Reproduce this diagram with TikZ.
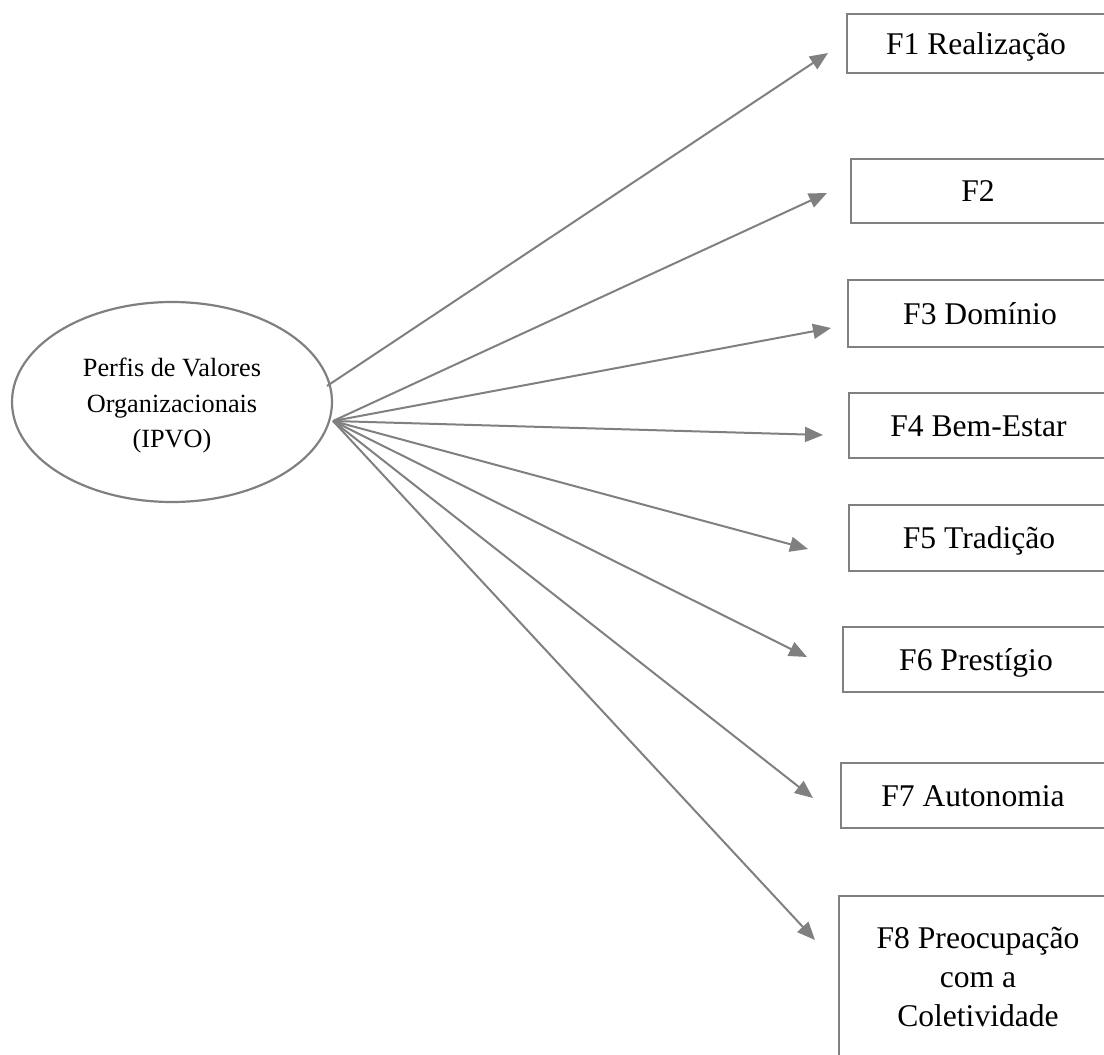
\documentclass[tikz,border=0pt]{standalone}
\usepackage{fontspec}
\setmainfont{Liberation Serif}
\usetikzlibrary{shapes.geometric,arrows.meta}
\definecolor{linegray}{HTML}{808080}
\begin{document}
\begin{tikzpicture}[x=1pt,y=-1pt,
  factor/.style={draw=linegray, line width=2.2pt, rectangle, inner sep=0pt,
    font=\fontsize{31.6}{39}\selectfont},
  oneline/.style={factor, text height=21pt, text depth=0pt},
  link/.style={draw=linegray, line width=2pt, -{Triangle[length=18pt,width=15pt]}}
]
\useasboundingbox (0,0) rectangle (1104,1055);
\clip (0,0) rectangle (1104,1055);

% latent construct
\node[ellipse, draw=linegray, line width=2.2pt, minimum width=320pt,
  minimum height=200pt, inner sep=0pt] (ipvo) at (172,402) {};
\node[align=center, inner sep=0pt, font=\fontsize{26.3}{35.5}\selectfont]
  (ipvotext) at ([yshift=-4pt]ipvo.center)
  {Perfis de Valores\\Organizacionais\\(IPVO)};

% factors
\node[oneline, minimum width=258pt, minimum height=59pt] (f1) at (976,43.5) {F1 Realização};
\node[oneline, minimum width=254pt, minimum height=64pt] (f2) at (978,191) {F2};
\node[oneline, minimum width=264pt, minimum height=67pt] (f3) at (980,313.5) {F3 Domínio};
\node[oneline, minimum width=259pt, minimum height=65pt] (f4) at (978.5,425.5) {F4 Bem-Estar};
\node[oneline, minimum width=260pt, minimum height=66pt] (f5) at (979,538) {F5 Tradição};
\node[oneline, minimum width=266pt, minimum height=65pt] (f6) at (976,659.5) {F6 Prestígio};
\node[oneline, minimum width=264pt, minimum height=65pt] (f7) at (973,795.5) {F7 Autonomia};
\node[factor, align=center, minimum width=278pt, minimum height=162pt] (f8) at (978,977)
  {F8 Preocupação\\com a\\Coletividade};

% connector ends
\coordinate (s1) at (327,386);
\coordinate (s) at (333,421);
\coordinate (t1) at (828,53);
\coordinate (t2) at (827,193);
\coordinate (t3) at (831,328);
\coordinate (t4) at (823,435);
\coordinate (t5) at (808,549);
\coordinate (t6) at (807,657);
\coordinate (t7) at (813,798);
\coordinate (t8) at (815,940);

\draw[link] (s1) -- (t1);
\foreach \i in {2,...,8} \draw[link] (s) -- (t\i);
\end{tikzpicture}
\end{document}
